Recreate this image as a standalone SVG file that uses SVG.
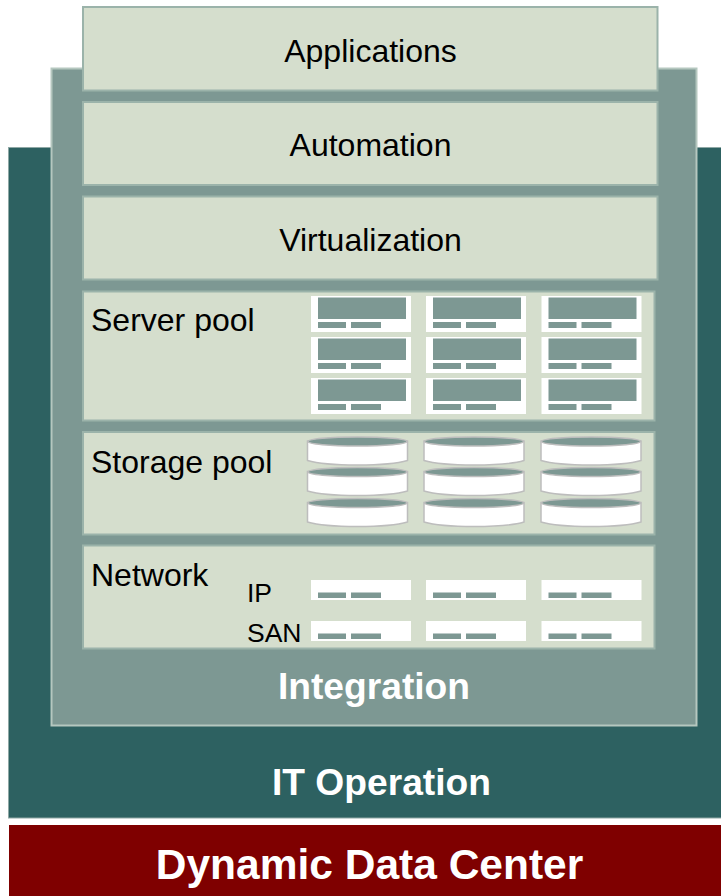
<svg xmlns="http://www.w3.org/2000/svg" width="721" height="896" viewBox="0 0 721 896">
<style>
text{font-family:"Liberation Sans",Arial,sans-serif}
.layer{fill:#d5decd;stroke:#9bb3aa;stroke-width:2}
.lbl{font-size:32px;fill:#000}
.sm{font-size:26.500px;fill:#000}
.head{font-size:37.200px;font-weight:bold;fill:#fff;text-anchor:middle}
.c{text-anchor:middle}
.tile{fill:#fff}
.bar{fill:#7d9893}
.cyl{fill:#fff;stroke:#bdbdbd;stroke-width:1.5}
.top{fill:#7d9893;stroke:#bdbdbd;stroke-width:1.5}
</style>
<defs>
<g id="srv"><rect class="tile" width="100" height="36"/><rect class="bar" x="7" y="1.500" width="88" height="21.500"/><rect class="bar" x="7" y="26" width="28" height="6"/><rect class="bar" x="40" y="26" width="30" height="6"/></g>
<g id="net"><rect class="tile" width="100" height="20"/><rect class="bar" x="7" y="12.500" width="28" height="5.500"/><rect class="bar" x="40" y="12.500" width="30" height="5.500"/></g>
<g id="cyl"><path class="cyl" d="M0 4V23.500C20 29.500 80 29.500 100 23.500V4Z"/><ellipse class="top" cx="50" cy="4.500" rx="49.500" ry="4.500"/></g>
</defs>
<g id="it-operation"><rect x="8.500" y="147.500" width="713" height="670.500" fill="#2d6161" stroke="#8fa8a5" stroke-width="1"/><text class="head" x="381.500" y="795">IT Operation</text></g>
<g id="integration"><rect x="51.500" y="68.500" width="645" height="657" fill="#7d9893" stroke="#b5c7bf" stroke-width="2"/><text class="head" x="374" y="699">Integration</text></g>
<g id="applications"><rect class="layer" x="83" y="7" width="574.500" height="83.500"/><text class="lbl c" x="370.500" y="62">Applications</text></g>
<g id="automation"><rect class="layer" x="83" y="102" width="574.500" height="83"/><text class="lbl c" x="370.500" y="156">Automation</text></g>
<g id="virtualization"><rect class="layer" x="83" y="196.500" width="574.500" height="83"/><text class="lbl c" x="370.500" y="251">Virtualization</text></g>
<g id="server-pool"><rect class="layer" x="83" y="291.500" width="571.500" height="129"/><text class="lbl" x="91" y="331">Server pool</text>
<use href="#srv" x="311" y="296"/><use href="#srv" x="426" y="296"/><use href="#srv" x="541.500" y="296"/>
<use href="#srv" x="311" y="337"/><use href="#srv" x="426" y="337"/><use href="#srv" x="541.500" y="337"/>
<use href="#srv" x="311" y="378"/><use href="#srv" x="426" y="378"/><use href="#srv" x="541.500" y="378"/></g>
<g id="storage-pool"><rect class="layer" x="83" y="432" width="571.500" height="102.500"/><text class="lbl" x="91" y="473">Storage pool</text>
<use href="#cyl" x="307.500" y="437"/><use href="#cyl" x="424" y="437"/><use href="#cyl" x="541" y="437"/>
<use href="#cyl" x="307.500" y="467.500"/><use href="#cyl" x="424" y="467.500"/><use href="#cyl" x="541" y="467.500"/>
<use href="#cyl" x="307.500" y="498.500"/><use href="#cyl" x="424" y="498.500"/><use href="#cyl" x="541" y="498.500"/></g>
<g id="network"><rect class="layer" x="83" y="545.500" width="571.500" height="103"/><text class="lbl" x="91" y="586">Network</text><text class="sm" x="247" y="602">IP</text><text class="sm" x="247" y="642">SAN</text>
<use href="#net" x="311" y="580"/><use href="#net" x="426" y="580"/><use href="#net" x="541.500" y="580"/>
<use href="#net" x="311" y="621"/><use href="#net" x="426" y="621"/><use href="#net" x="541.500" y="621"/></g>
<g id="dynamic-data-center"><rect x="9" y="825" width="712" height="71" fill="#7f0000"/><text class="c" x="369.500" y="879" font-size="42.500" font-weight="bold" fill="#fff">Dynamic Data Center</text></g>
<g id="connectors"/>
</svg>
